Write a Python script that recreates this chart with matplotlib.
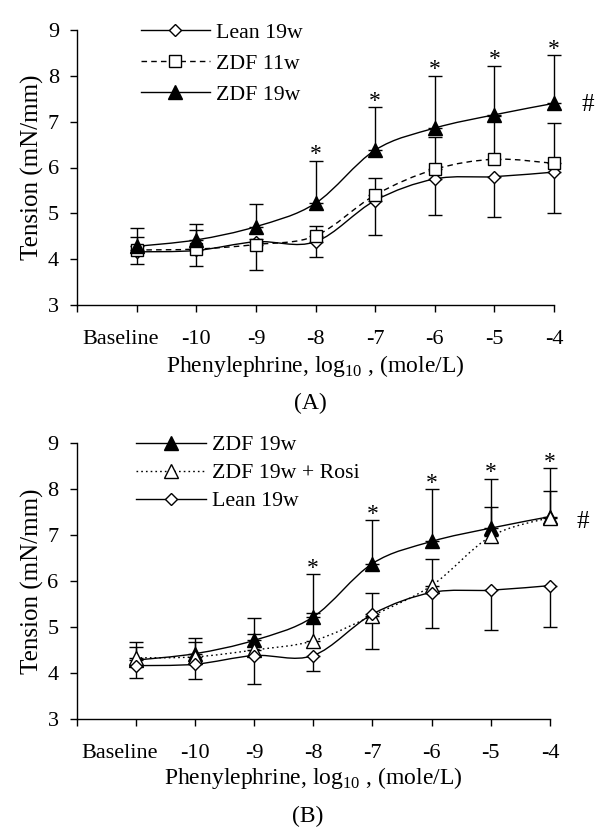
import numpy as np
import matplotlib
matplotlib.use("Agg")
import matplotlib.pyplot as plt
from matplotlib.path import Path
from matplotlib.patches import PathPatch
from matplotlib.lines import Line2D
from matplotlib.transforms import ScaledTranslation

plt.rcParams['font.family'] = ['Liberation Serif', 'DejaVu Serif']
plt.rcParams['mathtext.fontset'] = 'custom'
plt.rcParams['mathtext.rm'] = 'Liberation Serif'

# concentration steps
categories = ['Baseline', '-10', '-9', '-8', '-7', '-6', '-5', '-4']

# tension values (mN/mm)
lean_mean = [4.16, 4.19, 4.38, 4.38, 5.28, 5.75, 5.80, 5.90]
lean_low = [3.90, 3.86, 3.77, 4.04, 4.53, 4.97, 4.93, 5.01]

zdf11_mean = [4.20, 4.22, 4.32, 4.51, 5.40, 5.96, 6.18, 6.09]
zdf11_high = [4.49, 4.64, 4.45, 4.72, 5.78, 6.66, 7.12, 6.98]

zdf19_mean = [4.28, 4.42, 4.71, 5.22, 6.38, 6.86, 7.15, 7.40]
zdf19_high = [4.67, 4.77, 5.20, 6.15, 7.32, 8.00, 8.22, 8.45]

rosi_mean = [4.33, 4.35, 4.50, 4.70, 5.25, 5.90, 6.97, 7.38]
rosi_high = [4.57, 4.68, 4.84, 5.30, 5.73, 6.48, 7.61, 7.95]

star_idx = [3, 4, 5, 6, 7]

W, H = 600, 833
fig = plt.figure(figsize=(W / 100, H / 100), dpi=100)


def px(x, y):
    # pixel position -> figure fraction
    return x / W, 1 - y / H


def smooth_path(xs, ys):
    pts = np.column_stack([xs, ys]).astype(float)
    n = len(pts)
    verts = [pts[0]]
    codes = [Path.MOVETO]
    for i in range(n - 1):
        p0 = pts[i - 1] if i > 0 else pts[i]
        p1 = pts[i]
        p2 = pts[i + 1]
        p3 = pts[i + 2] if i + 2 < n else pts[i + 1]
        verts += [p1 + (p2 - p0) / 6, p2 - (p3 - p1) / 6, p2]
        codes += [Path.CURVE4] * 3
    return Path(verts, codes)


def series(ax, mean, err_low, err_high, marker, ms, face, ls):
    x = np.arange(len(mean))
    mean = np.array(mean)
    lo = mean - np.array(err_low) if err_low is not None else np.zeros(len(mean))
    hi = np.array(err_high) - mean if err_high is not None else np.zeros(len(mean))
    eb = ax.errorbar(x, mean, yerr=[lo, hi], fmt='none', ecolor='black',
                     elinewidth=1, capsize=4.7, capthick=1, zorder=2)
    for art in eb.get_children():
        art.set_clip_on(False)
    ax.add_patch(PathPatch(smooth_path(x, mean), fill=False, lw=1,
                           ls=ls, edgecolor='black', zorder=3, clip_on=False))
    ax.plot(x, mean, ls='none', marker=marker, ms=ms, mfc=face,
            mec='black', mew=1, zorder=4, clip_on=False)


def style_axes(ax):
    ax.set_xlim(-1, 7)
    ax.set_ylim(3, 9)
    for s in ['top', 'right']:
        ax.spines[s].set_visible(False)
    for s in ['left', 'bottom']:
        ax.spines[s].set_linewidth(1)
    ax.set_yticks(range(3, 10))
    ax.set_xticks(range(-1, 8))
    ax.set_xticklabels([''] + categories)
    ax.tick_params(direction='out', length=5, width=1, labelsize=16)
    ax.tick_params(axis='x', pad=13)
    ax.tick_params(axis='y', pad=8)
    off = ScaledTranslation(-16 / 100, 0, fig.dpi_scale_trans)
    lab = ax.get_xticklabels()[1]
    lab.set_transform(lab.get_transform() + off)
    for i in star_idx:
        ax.annotate('*', (i, zdf19_high[i]), xytext=(0, 0.3),
                    textcoords='offset points', ha='center', va='baseline',
                    fontsize=17)


def proxy(marker, ms, face, ls):
    return Line2D([], [], color='black', lw=1, ls=ls, marker=marker, ms=ms,
                  mfc=face, mec='black', mew=1)


dash = (0, (4, 3))
dot = (0, (1.2, 2.2))

# ---------- panel A ----------
axA = fig.add_axes([77 / W, 1 - 305 / H, (554 - 77) / W, (305 - 30) / H])
series(axA, lean_mean, lean_low, None, 'D', 6.5, 'white', '-')
series(axA, zdf11_mean, None, zdf11_high, 's', 9, 'white', dash)
series(axA, zdf19_mean, None, zdf19_high, '^', 9.5, 'black', '-')
style_axes(axA)
axA.text(7.56, 7.36, '#', ha='center', va='center', fontsize=18)
hA = [proxy('D', 6.5, 'white', '-'), proxy('s', 9, 'white', dash),
      proxy('^', 9.5, 'black', '-')]
fig.legend(hA, ['Lean 19w', 'ZDF 11w', 'ZDF 19w'], loc='upper left',
           bbox_to_anchor=px(140.5, 22.5), frameon=False, fontsize=15.7,
           handlelength=3.21, handletextpad=0.26, labelspacing=0.5,
           borderpad=0, borderaxespad=0, numpoints=1)
fig.text(*px(315, 366), r'Phenylephrine, log$_{\mathrm{10}}$ , (mole/L)',
         ha='center', va='center', fontsize=17)
fig.text(*px(32, 167), 'Tension (mN/mm)', rotation=90,
         ha='center', va='center', fontsize=18)
fig.text(*px(310, 403), '(A)', ha='center', va='center', fontsize=17)

# ---------- panel B ----------
axB = fig.add_axes([76.5 / W, 1 - 719 / H, (550 - 76.5) / W, (719 - 443) / H])
series(axB, zdf19_mean, None, zdf19_high, '^', 9.5, 'black', '-')
series(axB, rosi_mean, None, rosi_high, '^', 9.5, 'white', dot)
series(axB, lean_mean, lean_low, None, 'D', 6.5, 'white', '-')
style_axes(axB)
axB.text(7.56, 7.28, '#', ha='center', va='center', fontsize=18)
hB = [proxy('^', 9.5, 'black', '-'), proxy('^', 9.5, 'white', dot),
      proxy('D', 6.5, 'white', '-')]
fig.legend(hB, ['ZDF 19w', 'ZDF 19w + Rosi', 'Lean 19w'], loc='upper left',
           bbox_to_anchor=px(136, 435), frameon=False, fontsize=15.7,
           handlelength=3.21, handletextpad=0.26, labelspacing=0.36,
           borderpad=0, borderaxespad=0, numpoints=1)
fig.text(*px(313, 778), r'Phenylephrine, log$_{\mathrm{10}}$ , (mole/L)',
         ha='center', va='center', fontsize=17)
fig.text(*px(32, 581), 'Tension (mN/mm)', rotation=90,
         ha='center', va='center', fontsize=18)
fig.text(*px(308, 816), '(B)', ha='center', va='center', fontsize=17)

fig.savefig('out.png', dpi=100)
